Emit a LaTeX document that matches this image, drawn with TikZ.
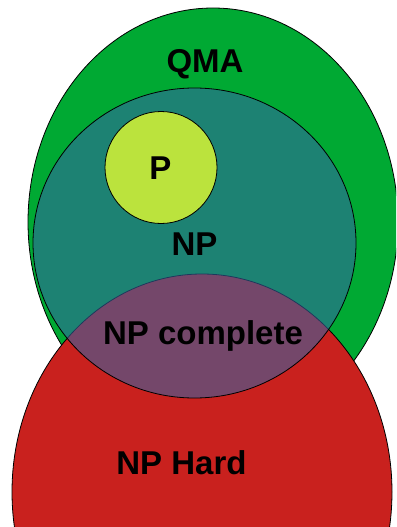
\documentclass[tikz,border=0pt]{standalone}
\usepackage{fontspec}
\setmainfont{Liberation Sans}
\begin{document}
\begin{tikzpicture}[x=1pt,y=-1pt,
  setline/.style={draw=black, line width=0.8pt},
  setlabel/.style={anchor=base, inner sep=0pt, font=\fontsize{33}{38}\selectfont\bfseries}]
\definecolor{qmagreen}{HTML}{00A933}
\definecolor{hardred}{HTML}{C9211E}
\definecolor{npblue}{HTML}{3465A4}
\definecolor{plime}{HTML}{BBE33D}
\useasboundingbox (0,0) rectangle (396,527);
\clip (0,0) rectangle (396,527);
% QMA
\fill[qmagreen, setline] (213,222) ellipse [x radius=185, y radius=214];
% NP hard
\fill[hardred, setline] (202,492) ellipse [x radius=190, y radius=218];
% NP, translucent so the overlap with NP hard shows as NP complete
\fill[npblue, fill opacity=0.57, draw opacity=1, setline] (194.5,243) ellipse [x radius=161.5, y radius=155];
% P
\fill[plime, setline] (161,167.5) circle [radius=56];
% labels
\node[setlabel] (qma) at (205,72) {QMA};
\node[setlabel] (p) at (160.5,179.5) {P};
\node[setlabel] (np) at (194.5,255.5) {NP};
\node[setlabel] (npc) at (203,344.5) {NP complete};
\node[setlabel] (nph) at (181.5,474.5) {NP Hard};
\end{tikzpicture}
\end{document}
